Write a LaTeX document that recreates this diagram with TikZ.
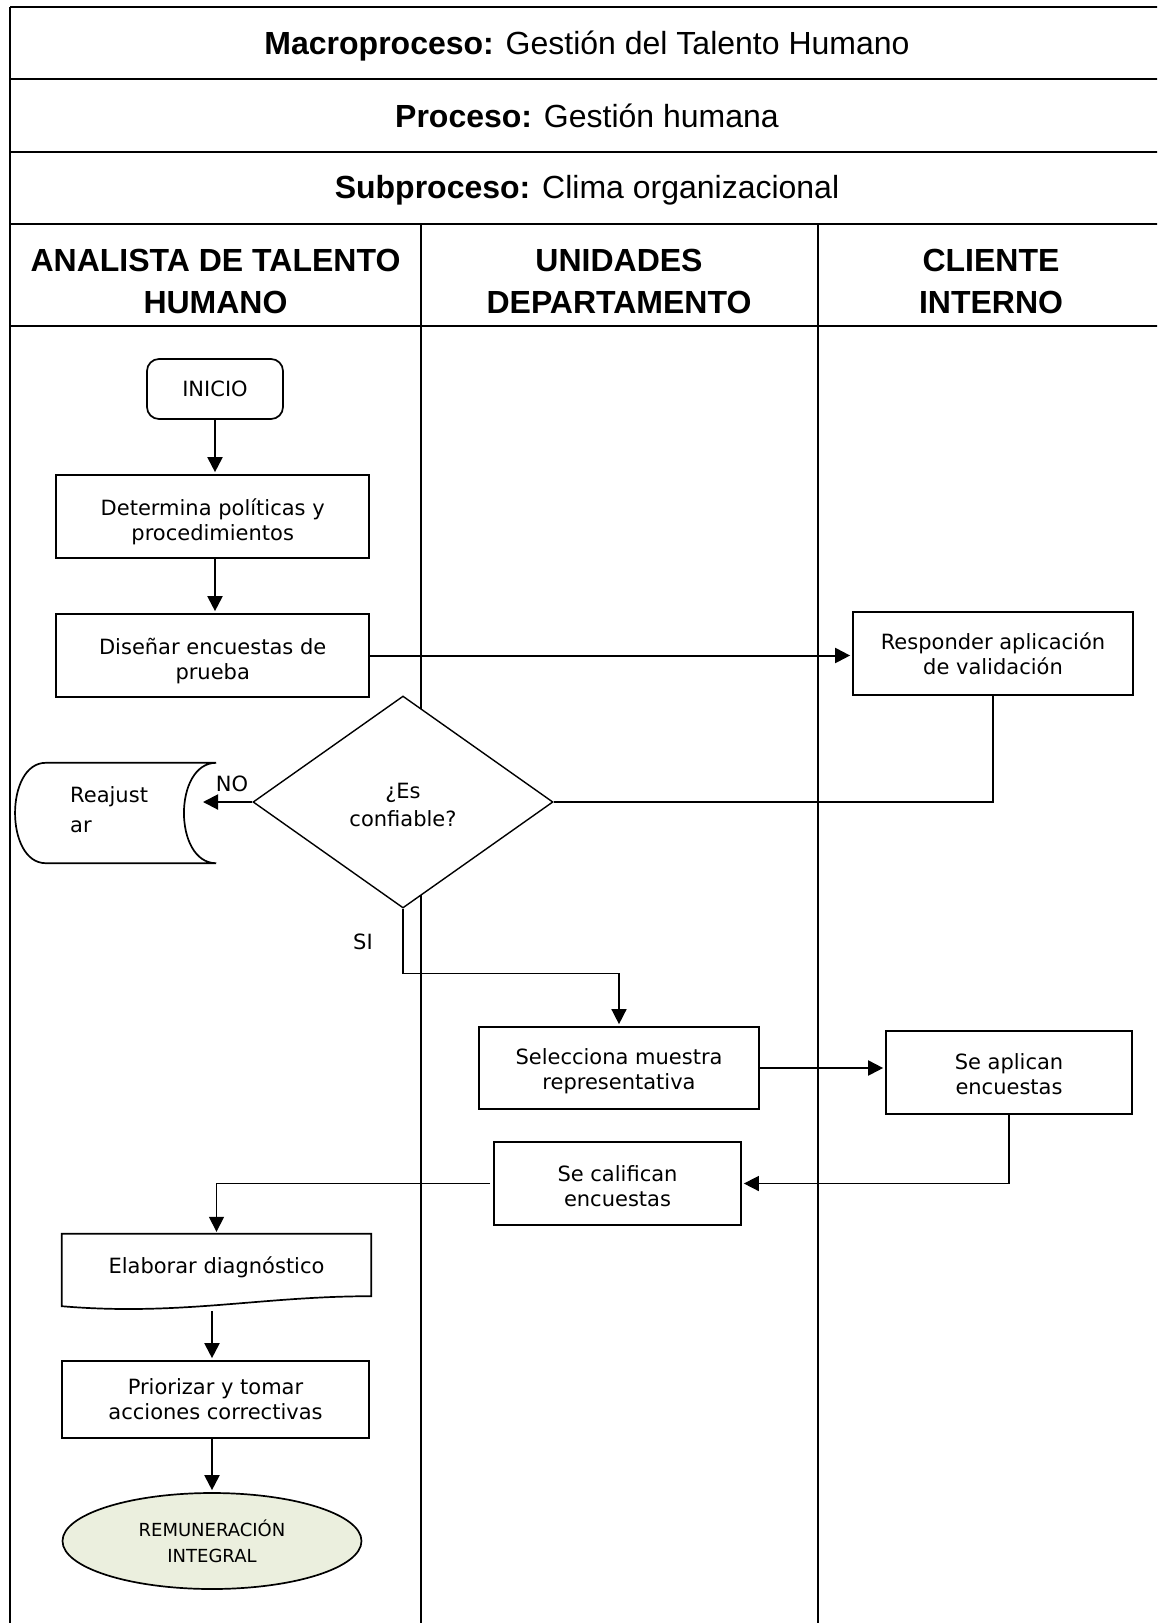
\documentclass[tikz,border=0pt]{standalone}
\usepackage{fontspec}
\setmainfont{DejaVu Sans}
\newfontfamily\hdrfont{Liberation Sans}
\usetikzlibrary{arrows.meta,shapes.geometric}
\definecolor{endfill}{RGB}{235,239,222}
\tikzset{
  tblline/.style={line width=2.3pt},
  laneline/.style={line width=1.8pt},
  hdr/.style={inner sep=0pt, font=\hdrfont\fontsize{32}{42}\selectfont},
  lanehdr/.style={inner sep=0pt, align=center, font=\hdrfont\bfseries\fontsize{32}{42}\selectfont},
  flowtext/.style={inner sep=0pt, align=center, font=\fontsize{21}{25}\selectfont},
  flowbox/.style={flowtext, draw, line width=1.7pt},
  startbox/.style={flowbox, rounded corners=12pt, minimum width=136pt, minimum height=60pt},
  decision/.style={shape=diamond, draw, fill=white, line width=1.4pt, inner sep=0pt,
    minimum width=300pt, minimum height=212pt},
  endnode/.style={ellipse, draw, fill=endfill, line width=1.7pt, inner sep=0pt,
    minimum width=299pt, minimum height=96pt, align=center, font=\fontsize{18}{26}\selectfont},
  lbl/.style={inner sep=0pt, font=\fontsize{21}{25}\selectfont},
  arr/.style={-{Triangle[width=15pt,length=15pt]}, line width=2pt, shorten >=2pt},
  thinarr/.style={-{Triangle[width=15pt,length=15pt]}, line width=1.5pt, shorten >=2pt},
  thin/.style={line width=1.4pt}
}
\begin{document}
\begin{tikzpicture}[x=1pt,y=-1pt]
\useasboundingbox (0,0) rectangle (1157,1623);
\clip (0,0) rectangle (1157,1623);

% table frame and header rows
\draw[tblline] (10,7) -- (1170,7);
\draw[tblline] (10,79) -- (1170,79);
\draw[tblline] (10,152) -- (1170,152);
\draw[tblline] (10,224) -- (1170,224);
\draw[tblline] (10,326) -- (1170,326);
\draw[tblline] (10,7) -- (10,1630);
\draw[laneline] (421,224) -- (421,1630);
\draw[laneline] (818,224) -- (818,1630);

\node[hdr, anchor=base] (macro) at (587,54) {\textbf{Macroproceso:} Gestión del Talento Humano};
\node[hdr, anchor=base] (proc) at (587,127) {\textbf{Proceso:} Gestión humana};
\node[hdr, anchor=base] (subp) at (587,198) {\textbf{Subproceso:} Clima organizacional};

\node[lanehdr] (lane1) at (215.5,281) {ANALISTA DE TALENTO\\HUMANO};
\node[lanehdr] (lane2) at (619,281) {UNIDADES\\DEPARTAMENTO};
\node[lanehdr] (lane3) at (991,281) {CLIENTE\\INTERNO};

% flow boxes (text set a little below the box centre)
\node[startbox] (ini) at (215,389) {INICIO};

\node[flowbox, minimum width=313pt, minimum height=83pt] (det) at (212.7,516.5) {};
\node[flowtext] (dettxt) at ([yshift=-5pt]det.center) {Determina políticas y\\procedimientos};

\node[flowbox, minimum width=313pt, minimum height=83pt] (dis) at (212.7,655.5) {};
\node[flowtext] (distxt) at ([yshift=-6pt]dis.center) {Diseñar encuestas de\\prueba};

\node[flowbox, minimum width=280pt, minimum height=83pt] (resp) at (993,653.5) {Responder aplicación\\de validación};

\node[decision] (dia) at (403,802) {};
\node[flowtext, font=\fontsize{21}{28}\selectfont] (diatxt) at ([yshift=-3pt]dia.center) {¿Es\\confiable?};

% stored-data shape for the adjustment step
\node[minimum width=201pt, minimum height=100pt, inner sep=0pt] (reaj) at (115.5,813) {};
\draw[line width=1.7pt] ([xshift=31pt]reaj.north west) -- (reaj.north east)
  .. controls +(-43,0) and +(-43,0) .. (reaj.south east)
  -- ([xshift=31pt]reaj.south west)
  .. controls +(-41,0) and +(-41,0) .. ([xshift=31pt]reaj.north west) -- cycle;
\node[lbl, anchor=west, align=left, font=\fontsize{21}{30}\selectfont] (reajtxt) at (70,810) {Reajust\\ar};

\node[flowbox, minimum width=280pt, minimum height=82pt] (sel) at (619,1068) {};
\node[flowtext] (seltxt) at ([yshift=-3.5pt]sel.center) {Selecciona muestra\\representativa};

\node[flowbox, minimum width=246pt, minimum height=83pt] (apl) at (1009,1072.5) {};
\node[flowtext] (apltxt) at ([yshift=-2pt]apl.center) {Se aplican\\encuestas};

\node[flowbox, minimum width=247pt, minimum height=83pt] (cal) at (617.5,1183.5) {};
\node[flowtext] (caltxt) at ([yshift=-2.5pt]cal.center) {Se califican\\encuestas};

% document shape for the diagnosis
\node[minimum width=309pt, minimum height=62pt, inner sep=0pt] (diag) at (216.5,1265) {};
\draw[line width=1.7pt] (diag.north west) -- (diag.north east) -- (diag.south east)
  .. controls +(-111,0) and +(118,10) .. ([yshift=-10pt]diag.south west) -- cycle;
\node[flowtext] (diagtxt) at ([yshift=-2pt]diag.center) {Elaborar diagnóstico};

\node[flowbox, minimum width=307pt, minimum height=77pt] (prio) at (215.5,1399.5) {Priorizar y tomar\\acciones correctivas};
\node[endnode] (fin) at (212,1541) {REMUNERACIÓN\\INTEGRAL};

% labels of the decision branches
\node[lbl] (nolbl) at (232,784) {NO};
\node[lbl] (silbl) at (363,942) {SI};

% connectors
\coordinate (noend) at (203,802);
\draw[arr] (ini.south) -- (ini.south |- det.north);
\draw[arr] (ini.south |- det.south) -- (ini.south |- dis.north);
\draw[arr] (dis.east) -- (dis.east -| resp.west);
\draw[thin] (resp.south) |- (dia.east);
\draw[arr, shorten >=0pt] (dia.west) -- (noend);
\draw[thinarr] (dia.south) -- ++(0,65) -| (sel.north);
\draw[arr] (sel.east) -- (sel.east -| apl.west);
\draw[thinarr] (apl.south) |- (cal.east);
\draw[thinarr] ([xshift=-3pt]cal.west) -| (diag.north);
\draw[arr] ([yshift=-15pt]fin.north |- diag.south) -- (fin.north |- prio.north);
\draw[arr] (fin.north |- prio.south) -- (fin.north);
\end{tikzpicture}
\end{document}
